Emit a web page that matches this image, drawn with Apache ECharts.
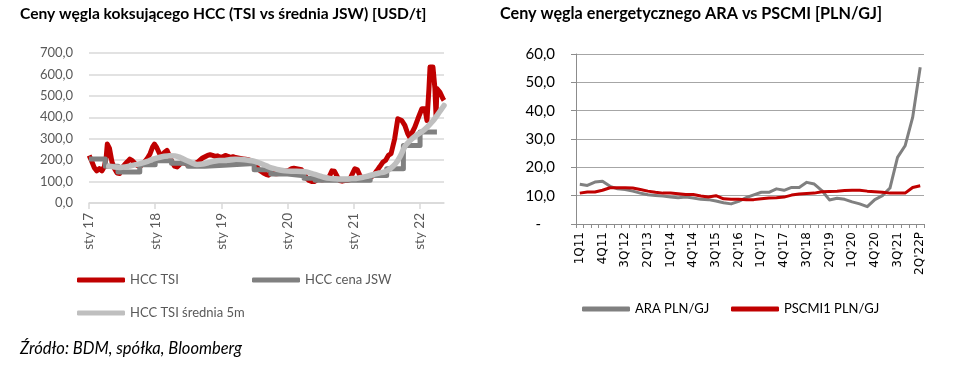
<!DOCTYPE html>
<html>
<head>
<meta charset="utf-8">
<script src="https://cdn.jsdelivr.net/npm/echarts@6/dist/echarts.min.js"></script>
<style>
html,body{margin:0;padding:0;background:#fff;}
#c{width:964px;height:368px;}
</style>
</head>
<body>
<div id="c"></div>
<script>
// ---------- Left chart: HCC coking coal prices [USD/t] ----------
const tsiDates = ['2017-01-02','2017-01-16','2017-01-30','2017-02-13','2017-02-27','2017-03-13','2017-03-27','2017-04-06','2017-04-12','2017-04-24','2017-05-08','2017-05-22','2017-06-05','2017-06-19','2017-07-03','2017-07-17','2017-07-31','2017-08-14','2017-08-28','2017-09-11','2017-09-25','2017-10-09','2017-10-23','2017-11-06','2017-11-20','2017-12-04','2017-12-18','2017-12-28',
'2018-01-10','2018-01-24','2018-02-07','2018-02-21','2018-03-07','2018-03-21','2018-04-04','2018-04-18','2018-05-02','2018-05-16','2018-05-30','2018-06-13','2018-06-27','2018-07-11','2018-07-25','2018-08-08','2018-08-22','2018-09-05','2018-09-19','2018-10-03','2018-10-17','2018-10-31','2018-11-14','2018-11-28','2018-12-12','2018-12-26',
'2019-01-09','2019-01-23','2019-02-06','2019-02-20','2019-03-06','2019-03-20','2019-04-03','2019-04-17','2019-05-01','2019-05-15','2019-05-29','2019-06-12','2019-06-26','2019-07-10','2019-07-24','2019-08-07','2019-08-21','2019-09-04','2019-09-18','2019-10-02','2019-10-16','2019-10-30','2019-11-13','2019-11-27','2019-12-11','2019-12-25',
'2020-01-08','2020-01-22','2020-02-05','2020-02-19','2020-03-04','2020-03-18','2020-04-01','2020-04-15','2020-04-29','2020-05-13','2020-05-27','2020-06-10','2020-06-24','2020-07-08','2020-07-22','2020-08-05','2020-08-19','2020-09-02','2020-09-16','2020-09-30','2020-10-14','2020-10-28','2020-11-11','2020-11-25','2020-12-09','2020-12-23',
'2021-01-06','2021-01-20','2021-02-03','2021-02-17','2021-03-03','2021-03-17','2021-03-31','2021-04-14','2021-04-28','2021-05-08','2021-05-24','2021-06-09','2021-06-25','2021-07-10','2021-07-25','2021-08-14','2021-08-31','2021-09-22','2021-10-09','2021-10-25','2021-11-05','2021-12-03','2021-12-20',
'2022-01-11','2022-01-28','2022-02-08','2022-02-19','2022-02-25','2022-03-13','2022-03-24','2022-03-30','2022-04-04','2022-04-20','2022-05-07','2022-05-13'];
const tsiValues = [222,195,165,150,160,150,170,215,275,255,190,160,140,138,165,180,192,205,198,185,175,170,180,195,210,230,262,275,
258,232,222,236,246,218,192,172,168,180,190,186,180,184,180,184,190,200,210,216,222,225,222,218,220,214,
216,222,218,212,216,212,210,208,206,204,202,198,190,178,158,148,140,134,130,140,138,136,138,140,145,150,
152,160,162,160,158,155,140,115,105,100,100,108,112,108,110,112,125,150,148,125,105,102,105,105,108,135,
160,155,128,115,112,115,118,125,140,151,170,190,200,222,230,300,393,385,362,323,307,354,393,
440,440,385,534,635,635,534,409,534,518,487,479];

const jswDates = ['2017-01-01','2017-04-01','2017-06-10','2017-10-08','2018-01-01','2018-04-01','2018-07-01','2018-10-01','2019-01-15','2019-07-01','2019-10-01','2020-01-01','2020-04-01','2020-06-01','2021-04-01','2021-07-01','2021-10-01','2022-01-01','2022-04-04'];
const jswValues = [205,172,145,178,197,185,172,176,184,155,135,127,116,106,128,160,268,331,331];

const avgDates = ['2017-04-20','2017-05-20','2017-06-20','2017-07-20','2017-08-20','2017-09-20','2017-10-20','2017-11-20','2017-12-20',
'2018-01-20','2018-02-20','2018-03-20','2018-04-20','2018-05-20','2018-06-20','2018-07-20','2018-08-20','2018-09-20','2018-10-20','2018-11-20','2018-12-20',
'2019-01-20','2019-02-20','2019-03-20','2019-04-20','2019-05-20','2019-06-20','2019-07-20','2019-08-20','2019-09-20','2019-10-20','2019-11-20','2019-12-20',
'2020-01-20','2020-02-20','2020-03-20','2020-04-20','2020-05-20','2020-06-20','2020-07-20','2020-08-20','2020-09-20','2020-10-20','2020-11-20','2020-12-20',
'2021-01-20','2021-02-20','2021-03-20','2021-04-20','2021-05-20','2021-06-20','2021-07-20','2021-08-20','2021-09-15','2021-10-10','2021-11-05','2021-12-10',
'2022-01-10','2022-02-10','2022-03-10','2022-04-10','2022-05-13'];
const avgValues = [172,168,166,168,174,180,186,194,205,
212,218,221,220,212,200,188,180,182,188,195,198,
198,203,204,203,201,197,190,180,168,160,154,150,
148,148,147,144,136,128,120,115,113,112,112,114,
116,120,126,133,140,145,160,185,220,265,290,315,
332,355,380,415,455];

const leftYearTicks = ['2017-01-01','2018-01-01','2019-01-01','2020-01-01','2021-01-01','2022-01-01'];
const leftXMin = '2017-01-01';
const leftXMax = '2022-05-13';

// ---------- Right chart: ARA vs PSCMI [PLN/GJ] ----------
const quarters = ['1Q11','2Q11','3Q11','4Q11',
"1Q'12","2Q'12","3Q'12","4Q'12","1Q'13","2Q'13","3Q'13","4Q'13",
"1Q'14","2Q'14","3Q'14","4Q'14","1Q'15","2Q'15","3Q'15","4Q'15",
"1Q'16","2Q'16","3Q'16","4Q'16","1Q'17","2Q'17","3Q'17","4Q'17",
"1Q'18","2Q'18","3Q'18","4Q'18","1Q'19","2Q'19","3Q'19","4Q'19",
"1Q'20","2Q'20","3Q'20","4Q'20","1Q'21","2Q'21","3Q'21","4Q'21",
"1Q'22","2Q'22P"];
const araValues = [14.0,13.6,14.8,15.1,13.3,12.4,12.2,11.6,10.9,10.3,10.1,9.9,9.5,9.3,9.5,9.2,8.7,8.6,8.1,7.5,7.1,8.0,9.3,10.3,11.2,11.2,12.4,11.9,12.9,12.9,14.7,14.1,11.8,8.5,9.1,8.7,7.8,7.1,6.1,8.6,10.0,12.7,23.5,27.6,37.6,55.3];
const pscmiValues = [10.9,11.3,11.3,11.9,12.8,12.8,12.8,12.7,12.2,11.6,11.2,10.9,10.9,10.7,10.4,10.4,9.9,9.5,10.0,8.9,8.7,8.7,8.6,8.6,8.9,9.2,9.3,9.5,10.2,10.6,10.8,10.9,11.4,11.5,11.6,11.8,11.9,11.9,11.6,11.4,11.2,10.9,10.9,10.9,12.9,13.5];

const ts = d => +echarts.time.parse(d);
const zip = (a, b) => a.map((d, i) => [ts(d), b[i]]);
const FONT = 'Lato';
const comma1 = v => v.toFixed(1).replace('.', ',');
const yearTickValues = leftYearTicks.map(ts);

const chart = echarts.init(document.getElementById('c'), null, {renderer: 'canvas'});

function legendAt(name, left, cy, color, size) {
  return {
    data: [name], left: left, top: cy - 8, padding: 0,
    icon: 'roundRect', itemWidth: 48, itemHeight: 5,
    textStyle: {fontFamily: FONT, fontSize: size, color: color, lineHeight: 16},
    selectedMode: false
  };
}

const option = {
  animation: false,
  backgroundColor: '#fff',
  title: [
    {text: 'Ceny węgla koksującego HCC (TSI vs średnia JSW) [USD/t]', left: 20, top: 6, padding: 0,
     textStyle: {fontFamily: FONT, fontSize: 15.6, fontWeight: 'bold', color: '#000'}},
    {text: 'Ceny węgla energetycznego ARA vs PSCMI [PLN/GJ]', left: 500, top: 6, padding: 0,
     textStyle: {fontFamily: FONT, fontSize: 16.2, fontWeight: 'bold', color: '#000'}}
  ],
  legend: [
    legendAt('HCC TSI', 77, 280, '#595959', 13),
    legendAt('HCC cena JSW', 252, 280, '#595959', 13),
    legendAt('HCC TSI średnia 5m', 77, 313, '#595959', 13),
    legendAt('ARA PLN/GJ', 582, 309, '#000', 13),
    legendAt('PSCMI1 PLN/GJ', 731, 309, '#000', 13)
  ],
  grid: [
    {left: 89, top: 53, width: 355, height: 150, containLabel: false},
    {left: 576, top: 54, width: 348, height: 170, containLabel: false}
  ],
  xAxis: [
    {
      type: 'value', gridIndex: 0,
      min: ts(leftXMin), max: ts(leftXMax),
      axisLine: {show: true, lineStyle: {color: '#d9d9d9', width: 1.5}},
      axisTick: {show: true, length: 6, lineStyle: {color: '#d9d9d9', width: 1.5},
                 customValues: yearTickValues},
      axisLabel: {
        rotate: 90, margin: 10, color: '#595959', fontFamily: FONT, fontSize: 13.5,
        customValues: yearTickValues,
        formatter: v => 'sty ' + String(new Date(v).getFullYear()).slice(2)
      },
      splitLine: {show: false}
    },
    {
      type: 'category', gridIndex: 1, data: quarters, boundaryGap: true,
      axisLine: {show: true, lineStyle: {color: '#8c8c8c', width: 1}},
      axisTick: {show: true, interval: 0, length: 4, lineStyle: {color: '#8c8c8c'}},
      axisLabel: {interval: 2, rotate: 90, margin: 8, color: '#000', fontFamily: 'DejaVu Sans', fontSize: 12},
      splitLine: {show: false}
    }
  ],
  yAxis: [
    {
      type: 'value', gridIndex: 0, min: 0, max: 700, interval: 100,
      axisLine: {show: false}, axisTick: {show: false},
      axisLabel: {margin: 16, color: '#595959', fontFamily: FONT, fontSize: 13, formatter: v => comma1(v)},
      splitLine: {lineStyle: {color: '#d9d9d9', width: 1.5}}
    },
    {
      type: 'value', gridIndex: 1, min: 0, max: 60, interval: 10,
      axisLine: {show: true, lineStyle: {color: '#8c8c8c', width: 1}},
      axisTick: {show: true, length: 5, lineStyle: {color: '#8c8c8c'}},
      axisLabel: {margin: 21, color: '#000', fontFamily: FONT, fontSize: 15,
        formatter: v => v === 0 ? '{d|-}' : comma1(v),
        rich: {d: {fontFamily: FONT, fontSize: 15, color: '#000', padding: [0, 14, 0, 0]}}},
      splitLine: {lineStyle: {color: '#a6a6a6', width: 1}}
    }
  ],
  series: [
    {name: 'HCC TSI', type: 'line', xAxisIndex: 0, yAxisIndex: 0, data: zip(tsiDates, tsiValues),
     symbol: 'none', color: '#c00000', lineStyle: {color: '#c00000', width: 5, join: 'round'}},
    {name: 'HCC cena JSW', type: 'line', xAxisIndex: 0, yAxisIndex: 0, data: zip(jswDates, jswValues),
     step: 'end', symbol: 'none', color: '#808080', lineStyle: {color: '#808080', width: 5, join: 'round'}},
    {name: 'HCC TSI średnia 5m', type: 'line', xAxisIndex: 0, yAxisIndex: 0, data: zip(avgDates, avgValues),
     smooth: 0.3, symbol: 'none', color: '#bfbfbf', lineStyle: {color: '#bfbfbf', width: 5.5, cap: 'round'}},
    {name: 'ARA PLN/GJ', type: 'line', xAxisIndex: 1, yAxisIndex: 1, data: araValues,
     symbol: 'none', color: '#808080', lineStyle: {color: '#808080', width: 3, join: 'round'}},
    {name: 'PSCMI1 PLN/GJ', type: 'line', xAxisIndex: 1, yAxisIndex: 1, data: pscmiValues,
     symbol: 'none', color: '#c00000', lineStyle: {color: '#c00000', width: 3, join: 'round'}}
  ],
  graphic: [
    {type: 'text', left: 20, top: 340,
     style: {text: 'Źródło: BDM, spółka, Bloomberg', font: 'italic 16.5px Lato', fill: '#000'}}
  ]
};
chart.setOption(option);
</script>
</body>
</html>
